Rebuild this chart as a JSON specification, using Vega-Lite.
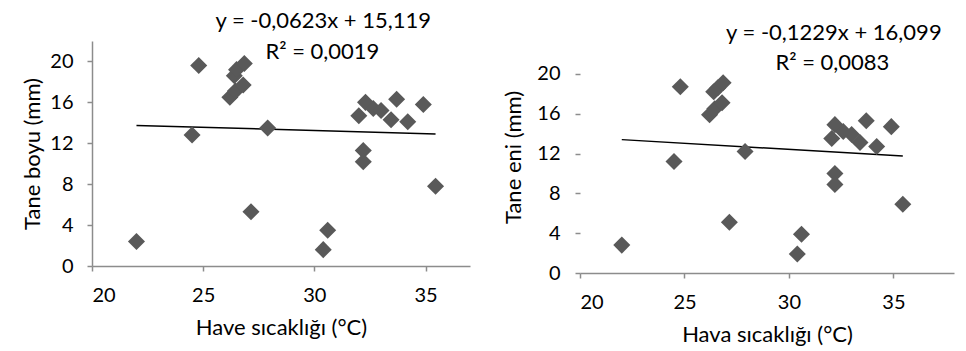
{
  "$schema": "https://vega.github.io/schema/vega-lite/v6.json",
  "background": "white",
  "padding": {"left": 21, "top": 9, "right": 5, "bottom": 5},
  "autosize": {"type": "pad"},
  "bounds": "flush",
  "spacing": 110,
  "datasets": {
    "boyu": [
      {"x": 22.0, "y": 2.4}, {"x": 24.5, "y": 12.8}, {"x": 24.8, "y": 19.6},
      {"x": 26.2, "y": 16.5}, {"x": 26.45, "y": 17.1}, {"x": 26.8, "y": 17.7},
      {"x": 26.4, "y": 18.6}, {"x": 26.5, "y": 19.2}, {"x": 26.85, "y": 19.8},
      {"x": 27.15, "y": 5.3}, {"x": 27.9, "y": 13.5}, {"x": 30.4, "y": 1.6},
      {"x": 30.6, "y": 3.5}, {"x": 32.0, "y": 14.7}, {"x": 32.3, "y": 16.0},
      {"x": 32.65, "y": 15.4}, {"x": 33.0, "y": 15.2}, {"x": 33.45, "y": 14.3},
      {"x": 33.7, "y": 16.3}, {"x": 34.2, "y": 14.1}, {"x": 34.9, "y": 15.8},
      {"x": 32.2, "y": 11.3}, {"x": 32.2, "y": 10.2}, {"x": 35.45, "y": 7.8}
    ],
    "eni": [
      {"x": 22.0, "y": 2.8}, {"x": 24.5, "y": 11.2}, {"x": 24.8, "y": 18.7},
      {"x": 26.2, "y": 15.9}, {"x": 26.45, "y": 16.5}, {"x": 26.8, "y": 17.1},
      {"x": 26.4, "y": 18.2}, {"x": 26.6, "y": 18.6}, {"x": 26.85, "y": 19.1},
      {"x": 27.15, "y": 5.1}, {"x": 27.9, "y": 12.2}, {"x": 30.4, "y": 1.9},
      {"x": 30.6, "y": 3.9}, {"x": 32.2, "y": 14.9}, {"x": 32.6, "y": 14.2},
      {"x": 32.05, "y": 13.5}, {"x": 33.0, "y": 13.9}, {"x": 33.4, "y": 13.1},
      {"x": 33.7, "y": 15.3}, {"x": 34.9, "y": 14.7}, {"x": 34.2, "y": 12.7},
      {"x": 32.2, "y": 10.0}, {"x": 32.2, "y": 8.9}, {"x": 35.45, "y": 6.9}
    ],
    "boyu_trend": [{"x": 22.0, "y": 13.748}, {"x": 35.45, "y": 12.910}],
    "eni_trend": [{"x": 22.0, "y": 13.395}, {"x": 35.45, "y": 11.742}],
    "boyu_eq": [
      {"x": 30.4, "y": 23.96, "label": "y = -0,0623x + 15,119"},
      {"x": 30.36, "y": 20.9, "label": "R² = 0,0019"}
    ],
    "eni_eq": [
      {"x": 32.15, "y": 24.09, "label": "y = -0,1229x + 16,099"},
      {"x": 32.08, "y": 21.08, "label": "R² = 0,0083"}
    ]
  },
  "config": {
    "font": "Lato",
    "view": {"stroke": null},
    "axis": {
      "grid": false,
      "domainColor": "#8c8c8c",
      "tickColor": "#8c8c8c",
      "domainWidth": 1.5,
      "tickWidth": 1.5,
      "tickSize": 5,
      "labelColor": "#000000",
      "titleColor": "#000000",
      "labelFontSize": 20,
      "titleFontSize": 22,
      "titleFontWeight": "normal",
      "labelFont": "Lato",
      "titleFont": "Lato"
    }
  },
  "hconcat": [
    {
      "width": 378,
      "height": 225,
      "layer": [
        {
          "data": {"name": "boyu_trend"},
          "mark": {"type": "line", "color": "#000000", "strokeWidth": 1.5},
          "encoding": {
            "x": {"field": "x", "type": "quantitative", "scale": {"domain": [20, 37], "nice": false, "zero": false},
              "axis": {"values": [20, 25, 30, 35], "title": "Have sıcaklığı (°C)", "labelPadding": 14, "titlePadding": 12}},
            "y": {"field": "y", "type": "quantitative", "scale": {"domain": [0, 22], "nice": false},
              "axis": {"values": [0, 4, 8, 12, 16, 20], "title": "Tane boyu (mm)", "labelPadding": 14, "titlePadding": 5}}
          }
        },
        {
          "data": {"name": "boyu"},
          "mark": {"type": "point", "shape": "diamond", "filled": true, "size": 290, "color": "#595959", "opacity": 1},
          "encoding": {
            "x": {"field": "x", "type": "quantitative"},
            "y": {"field": "y", "type": "quantitative"}
          }
        },
        {
          "data": {"name": "boyu_eq"},
          "mark": {"type": "text", "fontSize": 22, "align": "center", "baseline": "middle", "color": "#000000"},
          "encoding": {
            "x": {"field": "x", "type": "quantitative"},
            "y": {"field": "y", "type": "quantitative"},
            "text": {"field": "label"}
          }
        }
      ]
    },
    {
      "width": 374,
      "height": 232,
      "layer": [
        {
          "mark": {"type": "rule", "color": "#8c8c8c", "strokeWidth": 1.5},
          "encoding": {
            "x": {"datum": 20, "type": "quantitative"},
            "y": {"datum": 0, "type": "quantitative"},
            "y2": {"datum": 22}
          }
        },
        {
          "data": {"name": "eni_trend"},
          "mark": {"type": "line", "color": "#000000", "strokeWidth": 1.5},
          "encoding": {
            "x": {"field": "x", "type": "quantitative", "scale": {"domain": [20, 37.9], "nice": false, "zero": false},
              "axis": {"values": [20, 25, 30, 35], "title": "Hava sıcaklığı (°C)", "labelPadding": 14, "titlePadding": 12}},
            "y": {"field": "y", "type": "quantitative", "scale": {"domain": [0, 23.3], "nice": false},
              "axis": {"values": [0, 4, 8, 12, 16, 20], "title": "Tane eni (mm)", "labelPadding": 15, "titlePadding": 11, "domain": false}}
          }
        },
        {
          "data": {"name": "eni"},
          "mark": {"type": "point", "shape": "diamond", "filled": true, "size": 290, "color": "#595959", "opacity": 1},
          "encoding": {
            "x": {"field": "x", "type": "quantitative"},
            "y": {"field": "y", "type": "quantitative"}
          }
        },
        {
          "data": {"name": "eni_eq"},
          "mark": {"type": "text", "fontSize": 22, "align": "center", "baseline": "middle", "color": "#000000"},
          "encoding": {
            "x": {"field": "x", "type": "quantitative"},
            "y": {"field": "y", "type": "quantitative"},
            "text": {"field": "label"}
          }
        }
      ]
    }
  ]
}
